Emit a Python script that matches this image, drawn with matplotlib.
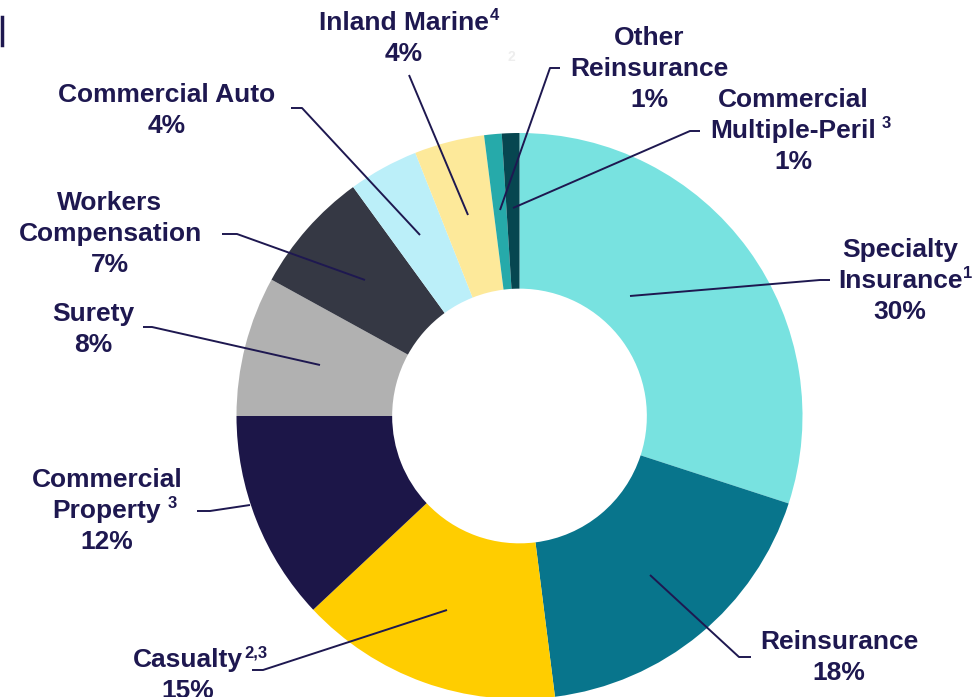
import matplotlib
matplotlib.use("Agg")
import matplotlib.pyplot as plt

# segment shares, clockwise from 12 o'clock
segments = ["Specialty Insurance", "Reinsurance", "Casualty", "Commercial Property",
            "Surety", "Workers Compensation", "Commercial Auto", "Inland Marine",
            "Other Reinsurance", "Commercial Multiple-Peril"]
shares = [30, 18, 15, 12, 8, 7, 4, 4, 1, 1]
colors = ["#78E2E0", "#08758C", "#FFCD00", "#1C1648", "#B1B1B1",
          "#353844", "#BBEFF9", "#FDE99A", "#26AAAA", "#074650"]

# label lines and footnote markers per segment
label_lines = [["Specialty", "Insurance", "30%"],
               ["Reinsurance", "18%"],
               ["Casualty", "15%"],
               ["Commercial", "Property", "12%"],
               ["Surety", "8%"],
               ["Workers", "Compensation", "7%"],
               ["Commercial Auto", "4%"],
               ["Inland Marine", "4%"],
               ["Other", "Reinsurance", "1%"],
               ["Commercial", "Multiple-Peril", "1%"]]
footnotes = [(1, "1"), None, (0, "2,3"), (1, "3"), None, None, None, (0, "4"), None, (1, "3")]

NAVY = "#1E1850"
W, H = 977, 697
FONT = "Liberation Sans"

fig = plt.figure(figsize=(W / 100, H / 100), dpi=100)
ax = fig.add_axes([0, 0, 1, 1])


def Y(y):
    # pixel row (from top) -> data y
    return H - y


cx, cy, R = 519.5, 416, 283
ax.pie(shares, colors=colors, startangle=90, counterclock=False,
       center=(cx, Y(cy)), radius=R,
       wedgeprops=dict(width=R * 0.55, linewidth=0))
ax.set_xlim(0, W)
ax.set_ylim(0, H)
ax.set_aspect("equal")
ax.axis("off")

# label block: centre x, first line y (pixels), leader line points (pixels)
layout = [
    (900, 250, [(630, 296), (820, 280), (830, 280)]),
    (839, 642, [(650, 575), (739, 657), (751, 657)]),
    (188, 660, [(447, 610), (263, 670), (252, 670)]),
    (107, 480, [(250, 505), (210, 511), (197, 511)]),
    (93, 314, [(320, 365), (152, 327), (143, 327)]),
    (110, 203, [(365, 280), (237, 234), (222, 234)]),
    (167, 95, [(420, 235), (302, 108), (291, 108)]),
    (404, 23, [(468, 215), (409, 75)]),
    (649, 38, [(500, 210), (550, 68), (560, 68)]),
    (793, 100, [(513, 208), (690, 131), (700, 131)]),
]

renderer = fig.canvas.get_renderer()
for lines, (tx, ty, pts), fn in zip(label_lines, layout, footnotes):
    xs = [p[0] for p in pts]
    ys = [Y(p[1]) for p in pts]
    ax.plot(xs, ys, color=NAVY, lw=1.4, solid_capstyle="butt")
    for i, line in enumerate(lines):
        t = ax.text(tx, Y(ty + 31 * i), line, ha="center", va="center",
                    fontsize=19, fontweight="bold", color=NAVY, family=FONT)
        if fn is not None and fn[0] == i:
            bb = t.get_window_extent(renderer)
            gap = 1 if fn[1] in ("1", "4", "2,3") else 6
            ax.text(bb.x1 + gap, Y(ty + 31 * i) + 7, fn[1], ha="left", va="center",
                    fontsize=12, fontweight="bold", color=NAVY, family=FONT)

# stray marks from the source slide
ax.text(511, Y(57), "2", ha="center", va="center", fontsize=10,
        fontweight="bold", color="#EEEEEE", family=FONT)
ax.plot([1.5, 1.5], [Y(17), Y(45)], color=NAVY, lw=2.5)

fig.savefig("out.png", dpi=100)
